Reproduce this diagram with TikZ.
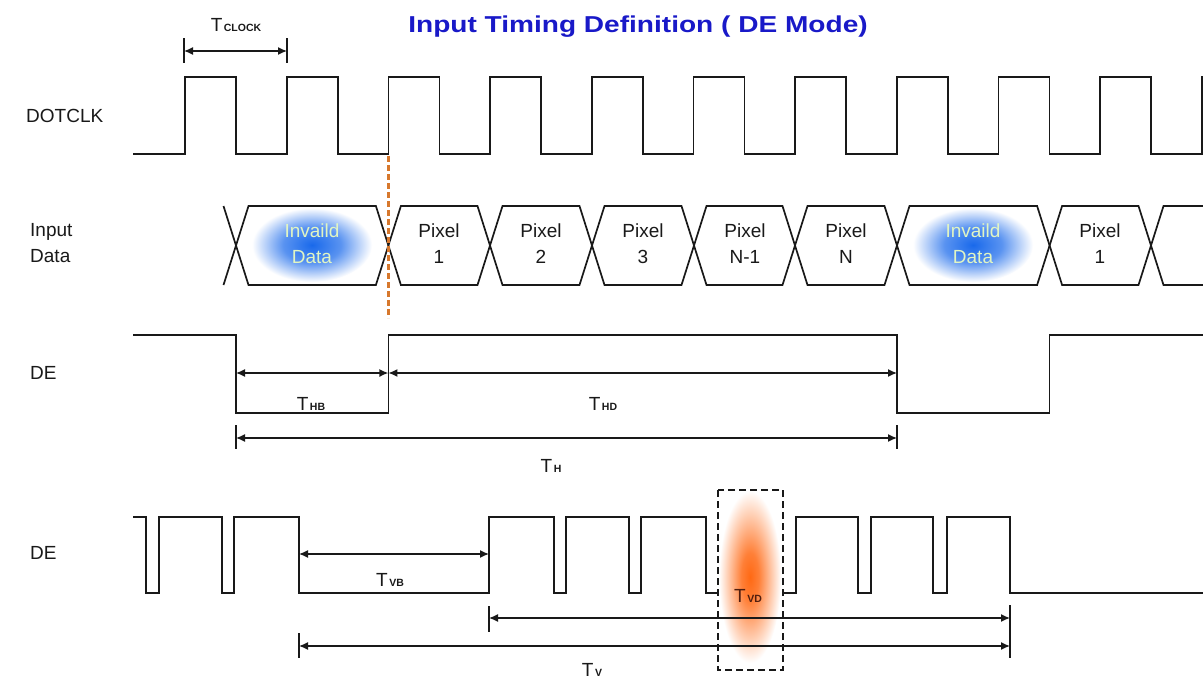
\documentclass[tikz,border=0pt]{standalone}
\usepackage{fontspec}
\setmainfont{Liberation Sans}
\usetikzlibrary{arrows.meta}
\definecolor{ink}{RGB}{25,25,25}
\definecolor{titleblue}{RGB}{25,25,200}
\definecolor{glowblue}{RGB}{25,105,235}
\definecolor{glowor}{RGB}{255,105,20}
\definecolor{vline}{RGB}{215,120,45}
\definecolor{palety}{RGB}{225,245,195}
\definecolor{tvdtext}{RGB}{80,30,15}
\pgfdeclareradialshading{blueglow}{\pgfpoint{0bp}{0bp}}{color(0bp)=(glowblue); color(12bp)=(glowblue!72!white); color(25bp)=(white); color(50bp)=(white)}
\pgfdeclareradialshading{orglow}{\pgfpoint{0bp}{0bp}}{color(0bp)=(glowor); color(7bp)=(glowor!85!white); color(25bp)=(white); color(50bp)=(white)}
\newcommand{\Tsub}[1]{T\hspace{1.5pt}{\fontsize{10.5}{10.5}\selectfont\bfseries #1}}
\begin{document}
\begin{tikzpicture}[x=1pt,y=-1pt,
  wave/.style={draw=ink,line width=1.7pt,line join=miter},
  dim/.style={draw=ink,line width=1.4pt,{Latex[length=9pt,width=8pt]}-{Latex[length=9pt,width=8pt]}},
  tickmark/.style={draw=ink,line width=1.5pt},
  lbl/.style={font=\fontsize{19}{26}\selectfont,text=ink,inner sep=0pt},
  cell/.style={font=\fontsize{19}{26}\selectfont,text=ink,align=center,inner sep=0pt},
  tlab/.style={font=\fontsize{19}{21}\selectfont,text=ink,inner sep=0pt},
]
\useasboundingbox (0,0) rectangle (1203,678);
\fill[white] (0,0) rectangle (1203,678);

% title
\node[font=\fontsize{23}{25}\selectfont\bfseries, text=titleblue, anchor=base, inner sep=0pt] (title) at (638,32) {\scalebox{1.22}[1]{Input Timing Definition ( DE Mode)}};

% labels at left
\node[lbl,anchor=west] (dotclk) at (26,116) {DOTCLK};
\node[lbl,anchor=west,align=left] (indata) at (30,243) {Input\\Data};
\node[lbl,anchor=west] (de1) at (30,373) {DE};
\node[lbl,anchor=west] (de2) at (30,553) {DE};

% T clock
\coordinate (ck1t) at (184,38); \coordinate (ck1b) at (184,63);
\coordinate (ck2t) at (287,38); \coordinate (ck2b) at (287,63);
\coordinate (ck1) at (184,51); \coordinate (ck2) at (287,51);
\draw[tickmark] (ck1t) -- (ck1b);
\draw[tickmark] (ck2t) -- (ck2b);
\draw[dim] (ck1) -- (ck2);
\node[tlab,anchor=base] (tclk) at (236,31) {\Tsub{CLOCK}};

% DOTCLK waveform
\draw[wave] (133,154) foreach \k in {0,...,9} { -- ({185+101.7*\k},154) -- ({185+101.7*\k},77) -- ({236+101.7*\k},77) -- ({236+101.7*\k},154) } -- (1202,154) -- (1202,77) -- (1203,77);

% glows
\shade[shading=blueglow] (312,245) ellipse (60 and 37);
\shade[shading=blueglow] (973,245) ellipse (60 and 37);

% input data hexagons
\draw[wave] (223.5,206) -- (236,245.5) -- (223.5,285);
\foreach \a/\b in {236/388.4, 388.4/490, 490/592, 592/694, 694/795, 795/897, 897/1049.6, 1049.6/1151}{
  \draw[wave] (\a,245.5) -- ({\a+12.5},206) -- ({\b-12.5},206) -- (\b,245.5) -- ({\b-12.5},285) -- ({\a+12.5},285) -- cycle;
}
\draw[wave] (1203,206) -- (1163.5,206) -- (1151,245.5) -- (1163.5,285) -- (1203,285);

\node[cell,text=palety] (inv1) at (312,244) {Invaild\\Data};
\node[cell] (px1) at (439,244) {Pixel\\1};
\node[cell] (px2) at (541,244) {Pixel\\2};
\node[cell] (px3) at (643,244) {Pixel\\3};
\node[cell] (pxn1) at (745,244) {Pixel\\N-1};
\node[cell] (pxn) at (846,244) {Pixel\\N};
\node[cell,text=palety] (inv2) at (973,244) {Invaild\\Data};
\node[cell] (px1b) at (1100,244) {Pixel\\1};

% orange dashed marker
\draw[vline,line width=2.6pt,dash pattern=on 6pt off 3pt] (388.4,156) -- (388.4,318);

% DE (horizontal)
\draw[wave] (133,335) -- (236,335) -- (236,413) -- (388.4,413) -- (388.4,335) -- (897,335) -- (897,413) -- (1049.6,413) -- (1049.6,335) -- (1203,335);
\coordinate (hb1) at (236,373); \coordinate (hb2) at (388.4,373); \coordinate (hd2) at (897,373);
\draw[dim] (hb1) -- (hb2);
\draw[dim] (hb2) -- (hd2);
\node[tlab,anchor=base] (thb) at (311,410) {\Tsub{HB}};
\node[tlab,anchor=base] (thd) at (603,410) {\Tsub{HD}};
\coordinate (h1t) at (236,425); \coordinate (h1b) at (236,449);
\coordinate (h2t) at (897,425); \coordinate (h2b) at (897,449);
\coordinate (h1) at (236,438); \coordinate (h2) at (897,438);
\draw[tickmark] (h1t) -- (h1b);
\draw[tickmark] (h2t) -- (h2b);
\draw[dim] (h1) -- (h2);
\node[tlab,anchor=base] (th) at (551,472) {\Tsub{H}};

% DE (vertical)
\shade[shading=orglow] (750,577) ellipse (31 and 86);
\draw[wave] (133,517) -- (146,517) -- (146,593) -- (159,593) -- (159,517) -- (222,517) -- (222,593) -- (234,593) -- (234,517) -- (299,517) -- (299,593) -- (489,593) -- (489,517) -- (554,517) -- (554,593) -- (566,593) -- (566,517) -- (629,517) -- (629,593) -- (641,593) -- (641,517) -- (706,517) -- (706,593) -- (718,593);
\draw[wave] (783,593) -- (796,593) -- (796,517) -- (858,517) -- (858,593) -- (871,593) -- (871,517) -- (933,517) -- (933,593) -- (947,593) -- (947,517) -- (1010,517) -- (1010,593) -- (1203,593);

\coordinate (vb1) at (299,554); \coordinate (vb2) at (489,554);
\draw[dim] (vb1) -- (vb2);
\node[tlab,anchor=base] (tvb) at (390,586) {\Tsub{VB}};

\coordinate (vd1t) at (489,606); \coordinate (vd1b) at (489,632);
\coordinate (v1t) at (299,633); \coordinate (v1b) at (299,658);
\coordinate (v2t) at (1010,605); \coordinate (v2b) at (1010,658);
\draw[tickmark] (vd1t) -- (vd1b);
\draw[tickmark] (v1t) -- (v1b);
\draw[tickmark] (v2t) -- (v2b);
\coordinate (vd1) at (489,618); \coordinate (vd2) at (1010,618);
\coordinate (v1) at (299,646); \coordinate (v2) at (1010,646);
\draw[dim] (vd1) -- (vd2);
\draw[dim] (v1) -- (v2);
\node[tlab,anchor=base,text=tvdtext] (tvd) at (748,602) {\Tsub{VD}};
\node[tlab,anchor=base] (tv) at (592,676) {\Tsub{V}};

\draw[draw=ink,line width=1.8pt,dash pattern=on 7pt off 4pt] (718,490) rectangle (783,670);
\end{tikzpicture}
\end{document}
